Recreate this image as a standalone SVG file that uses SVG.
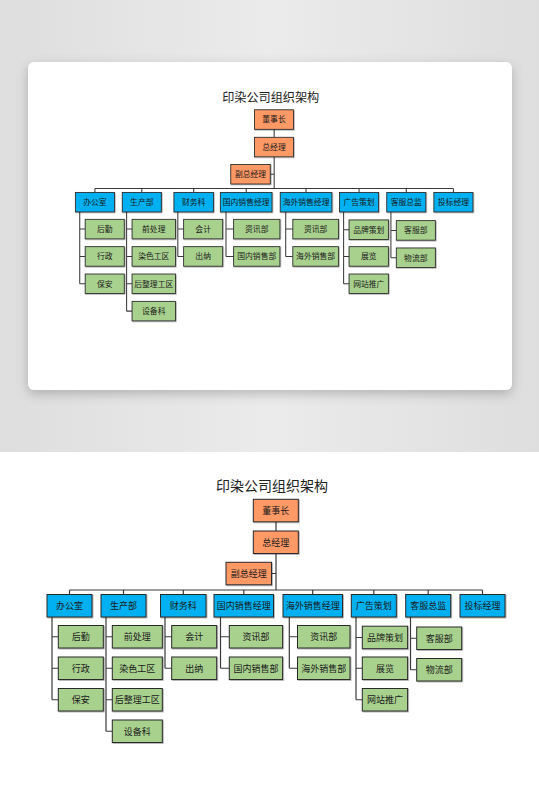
<svg xmlns="http://www.w3.org/2000/svg" width="539" height="812" viewBox="0 0 539 812">
<defs>
<linearGradient id="bg" x1="0" y1="0" x2="1" y2="0">
<stop offset="0" stop-color="#dedede"/><stop offset="0.5" stop-color="#ebebeb"/><stop offset="1" stop-color="#dedede"/>
</linearGradient>
<filter id="cardsh" x="-10%" y="-10%" width="120%" height="130%">
<feDropShadow dx="0" dy="4" stdDeviation="6" flood-color="#000" flood-opacity="0.22"/>
</filter>
<filter id="bs" x="-10%" y="-10%" width="130%" height="140%">
<feDropShadow dx="0.8" dy="0.8" stdDeviation="0.4" flood-color="#000" flood-opacity="0.35"/>
</filter>
</defs>
<style>
.box{stroke:#2b2b2b;stroke-width:1;filter:url(#bs)}
.o{fill:#FF9966}
.b{fill:#00B0F0}
.g{fill:#A9D18E}
.t{font-family:"Noto Sans CJK SC","Noto Sans",sans-serif;font-size:9px;fill:#1a1a1a;text-anchor:middle}
.title{font-family:"Noto Sans CJK SC","Noto Sans",sans-serif;font-size:14px;fill:#222;text-anchor:middle}
.ln{fill:none;stroke:#3a3a3a;stroke-width:1.2}
</style>
<rect x="0" y="0" width="539" height="452" fill="url(#bg)"/>
<rect x="0" y="452" width="539" height="360" fill="#ffffff"/>
<rect x="28" y="62" width="484" height="328" rx="6" fill="#ffffff" filter="url(#cardsh)"/>

<!-- ===== Bottom chart ===== -->
<g id="chart-bottom">
<text class="title" x="272" y="490.5">印染公司组织架构</text>
<g id="b-connectors" class="ln">
<path d="M276 521.8V531M276 553.5V590M271.5 573.5H276"/>
<path d="M69.5 590H482.5M69.5 590V594.5M123.5 590V594.5M183.3 590V594.5M243.8 590V594.5M312.7 590V594.5M373.8 590V594.5M428.2 590V594.5M482.5 590V594.5"/>
<path d="M52 617V699.75M52 636.75H58.3M52 668.25H58.3M52 699.75H58.3"/>
<path d="M106 617V731.25M106 636.75H112.3M106 668.25H112.3M106 699.75H112.3M106 731.25H112.3"/>
<path d="M165 617V668.25M165 636.75H171.7M165 668.25H171.7"/>
<path d="M220.5 617V668.25M220.5 636.75H229.3M220.5 668.25H229.3"/>
<path d="M289.3 617V668.25M289.3 636.75H297.5M289.3 668.25H297.5"/>
<path d="M356 617V699.75M356 637.5H362.3M356 668.25H362.3M356 699.75H362.3"/>
<path d="M410.5 617V669.75M410.5 638.25H416.7M410.5 669.75H416.7"/>
</g>
<g id="b-ceo"><rect class="box o" x="253.3" y="499.3" width="45" height="22.5"/><text class="t" x="275.8" y="513.9">董事长</text></g>
<g id="b-gm"><rect class="box o" x="253.3" y="531" width="45" height="22.5"/><text class="t" x="275.8" y="545.6">总经理</text></g>
<g id="b-vgm"><rect class="box o" x="226" y="562.3" width="45.5" height="22.5"/><text class="t" x="248.75" y="576.9">副总经理</text></g>

<g id="b-office"><rect class="box b" x="47" y="594.5" width="45" height="22.5"/><text class="t" x="69.5" y="609.1">办公室</text></g>
<g id="b-prod"><rect class="box b" x="101" y="594.5" width="45" height="22.5"/><text class="t" x="123.5" y="609.1">生产部</text></g>
<g id="b-fin"><rect class="box b" x="160.5" y="594.5" width="45.5" height="22.5"/><text class="t" x="183.25" y="609.1">财务科</text></g>
<g id="b-dom"><rect class="box b" x="214" y="594.5" width="59.5" height="22.5"/><text class="t" x="243.75" y="609.1">国内销售经理</text></g>
<g id="b-ovs"><rect class="box b" x="283" y="594.5" width="59.5" height="22.5"/><text class="t" x="312.75" y="609.1">海外销售经理</text></g>
<g id="b-adv"><rect class="box b" x="351.3" y="594.5" width="45" height="22.5"/><text class="t" x="373.8" y="609.1">广告策划</text></g>
<g id="b-cs"><rect class="box b" x="405.7" y="594.5" width="45" height="22.5"/><text class="t" x="428.2" y="609.1">客服总监</text></g>
<g id="b-bid"><rect class="box b" x="460" y="594.5" width="45" height="22.5"/><text class="t" x="482.5" y="609.1">投标经理</text></g>

<g id="b-office-1"><rect class="box g" x="58.3" y="625.5" width="45" height="22.5"/><text class="t" x="80.8" y="640.1">后勤</text></g>
<g id="b-office-2"><rect class="box g" x="58.3" y="657" width="45" height="22.5"/><text class="t" x="80.8" y="671.6">行政</text></g>
<g id="b-office-3"><rect class="box g" x="58.3" y="688.5" width="45" height="22.5"/><text class="t" x="80.8" y="703.1">保安</text></g>

<g id="b-prod-1"><rect class="box g" x="112.3" y="625.5" width="50" height="22.5"/><text class="t" x="137.3" y="640.1">前处理</text></g>
<g id="b-prod-2"><rect class="box g" x="112.3" y="657" width="50" height="22.5"/><text class="t" x="137.3" y="671.6">染色工区</text></g>
<g id="b-prod-3"><rect class="box g" x="112.3" y="688.5" width="50" height="22.5"/><text class="t" x="137.3" y="703.1">后整理工区</text></g>
<g id="b-prod-4"><rect class="box g" x="112.3" y="720" width="50" height="22.5"/><text class="t" x="137.3" y="734.6">设备科</text></g>

<g id="b-fin-1"><rect class="box g" x="171.7" y="625.5" width="45" height="22.5"/><text class="t" x="194.2" y="640.1">会计</text></g>
<g id="b-fin-2"><rect class="box g" x="171.7" y="657" width="45" height="22.5"/><text class="t" x="194.2" y="671.6">出纳</text></g>

<g id="b-dom-1"><rect class="box g" x="229.3" y="625.5" width="53.3" height="22.5"/><text class="t" x="255.95" y="640.1">资讯部</text></g>
<g id="b-dom-2"><rect class="box g" x="229.3" y="657" width="53.3" height="22.5"/><text class="t" x="255.95" y="671.6">国内销售部</text></g>

<g id="b-ovs-1"><rect class="box g" x="297.5" y="625.5" width="52.5" height="22.5"/><text class="t" x="323.75" y="640.1">资讯部</text></g>
<g id="b-ovs-2"><rect class="box g" x="297.5" y="657" width="52.5" height="22.5"/><text class="t" x="323.75" y="671.6">海外销售部</text></g>

<g id="b-adv-1"><rect class="box g" x="362.3" y="626.2" width="45.3" height="22.5"/><text class="t" x="384.95" y="640.8">品牌策划</text></g>
<g id="b-adv-2"><rect class="box g" x="362.3" y="657" width="45.3" height="22.5"/><text class="t" x="384.95" y="671.6">展览</text></g>
<g id="b-adv-3"><rect class="box g" x="362.3" y="688.5" width="45.3" height="22.5"/><text class="t" x="384.95" y="703.1">网站推广</text></g>

<g id="b-cs-1"><rect class="box g" x="416.7" y="627" width="45" height="22.5"/><text class="t" x="439.2" y="641.6">客服部</text></g>
<g id="b-cs-2"><rect class="box g" x="416.7" y="658.5" width="45" height="22.5"/><text class="t" x="439.2" y="673.1">物流部</text></g>
</g>

<!-- ===== Top chart (in card) ===== -->
<g id="chart-top" transform="translate(34.6,-323.6) scale(0.868)">
<text class="title" x="272" y="490.5">印染公司组织架构</text>
<g id="t-connectors" class="ln">
<path d="M276 521.8V531M276 553.5V590M271.5 573.5H276"/>
<path d="M69.5 590H482.5M69.5 590V594.5M123.5 590V594.5M183.3 590V594.5M243.8 590V594.5M312.7 590V594.5M373.8 590V594.5M428.2 590V594.5M482.5 590V594.5"/>
<path d="M52 617V699.75M52 636.75H58.3M52 668.25H58.3M52 699.75H58.3"/>
<path d="M106 617V731.25M106 636.75H112.3M106 668.25H112.3M106 699.75H112.3M106 731.25H112.3"/>
<path d="M165 617V668.25M165 636.75H171.7M165 668.25H171.7"/>
<path d="M220.5 617V668.25M220.5 636.75H229.3M220.5 668.25H229.3"/>
<path d="M289.3 617V668.25M289.3 636.75H297.5M289.3 668.25H297.5"/>
<path d="M356 617V699.75M356 637.5H362.3M356 668.25H362.3M356 699.75H362.3"/>
<path d="M410.5 617V669.75M410.5 638.25H416.7M410.5 669.75H416.7"/>
</g>
<g id="t-ceo"><rect class="box o" x="253.3" y="499.3" width="45" height="22.5"/><text class="t" x="275.8" y="513.9">董事长</text></g>
<g id="t-gm"><rect class="box o" x="253.3" y="531" width="45" height="22.5"/><text class="t" x="275.8" y="545.6">总经理</text></g>
<g id="t-vgm"><rect class="box o" x="226" y="562.3" width="45.5" height="22.5"/><text class="t" x="248.75" y="576.9">副总经理</text></g>

<g id="t-office"><rect class="box b" x="47" y="594.5" width="45" height="22.5"/><text class="t" x="69.5" y="609.1">办公室</text></g>
<g id="t-prod"><rect class="box b" x="101" y="594.5" width="45" height="22.5"/><text class="t" x="123.5" y="609.1">生产部</text></g>
<g id="t-fin"><rect class="box b" x="160.5" y="594.5" width="45.5" height="22.5"/><text class="t" x="183.25" y="609.1">财务科</text></g>
<g id="t-dom"><rect class="box b" x="214" y="594.5" width="59.5" height="22.5"/><text class="t" x="243.75" y="609.1">国内销售经理</text></g>
<g id="t-ovs"><rect class="box b" x="283" y="594.5" width="59.5" height="22.5"/><text class="t" x="312.75" y="609.1">海外销售经理</text></g>
<g id="t-adv"><rect class="box b" x="351.3" y="594.5" width="45" height="22.5"/><text class="t" x="373.8" y="609.1">广告策划</text></g>
<g id="t-cs"><rect class="box b" x="405.7" y="594.5" width="45" height="22.5"/><text class="t" x="428.2" y="609.1">客服总监</text></g>
<g id="t-bid"><rect class="box b" x="460" y="594.5" width="45" height="22.5"/><text class="t" x="482.5" y="609.1">投标经理</text></g>

<g id="t-office-1"><rect class="box g" x="58.3" y="625.5" width="45" height="22.5"/><text class="t" x="80.8" y="640.1">后勤</text></g>
<g id="t-office-2"><rect class="box g" x="58.3" y="657" width="45" height="22.5"/><text class="t" x="80.8" y="671.6">行政</text></g>
<g id="t-office-3"><rect class="box g" x="58.3" y="688.5" width="45" height="22.5"/><text class="t" x="80.8" y="703.1">保安</text></g>

<g id="t-prod-1"><rect class="box g" x="112.3" y="625.5" width="50" height="22.5"/><text class="t" x="137.3" y="640.1">前处理</text></g>
<g id="t-prod-2"><rect class="box g" x="112.3" y="657" width="50" height="22.5"/><text class="t" x="137.3" y="671.6">染色工区</text></g>
<g id="t-prod-3"><rect class="box g" x="112.3" y="688.5" width="50" height="22.5"/><text class="t" x="137.3" y="703.1">后整理工区</text></g>
<g id="t-prod-4"><rect class="box g" x="112.3" y="720" width="50" height="22.5"/><text class="t" x="137.3" y="734.6">设备科</text></g>

<g id="t-fin-1"><rect class="box g" x="171.7" y="625.5" width="45" height="22.5"/><text class="t" x="194.2" y="640.1">会计</text></g>
<g id="t-fin-2"><rect class="box g" x="171.7" y="657" width="45" height="22.5"/><text class="t" x="194.2" y="671.6">出纳</text></g>

<g id="t-dom-1"><rect class="box g" x="229.3" y="625.5" width="53.3" height="22.5"/><text class="t" x="255.95" y="640.1">资讯部</text></g>
<g id="t-dom-2"><rect class="box g" x="229.3" y="657" width="53.3" height="22.5"/><text class="t" x="255.95" y="671.6">国内销售部</text></g>

<g id="t-ovs-1"><rect class="box g" x="297.5" y="625.5" width="52.5" height="22.5"/><text class="t" x="323.75" y="640.1">资讯部</text></g>
<g id="t-ovs-2"><rect class="box g" x="297.5" y="657" width="52.5" height="22.5"/><text class="t" x="323.75" y="671.6">海外销售部</text></g>

<g id="t-adv-1"><rect class="box g" x="362.3" y="626.2" width="45.3" height="22.5"/><text class="t" x="384.95" y="640.8">品牌策划</text></g>
<g id="t-adv-2"><rect class="box g" x="362.3" y="657" width="45.3" height="22.5"/><text class="t" x="384.95" y="671.6">展览</text></g>
<g id="t-adv-3"><rect class="box g" x="362.3" y="688.5" width="45.3" height="22.5"/><text class="t" x="384.95" y="703.1">网站推广</text></g>

<g id="t-cs-1"><rect class="box g" x="416.7" y="627" width="45" height="22.5"/><text class="t" x="439.2" y="641.6">客服部</text></g>
<g id="t-cs-2"><rect class="box g" x="416.7" y="658.5" width="45" height="22.5"/><text class="t" x="439.2" y="673.1">物流部</text></g>
</g>
</svg>
